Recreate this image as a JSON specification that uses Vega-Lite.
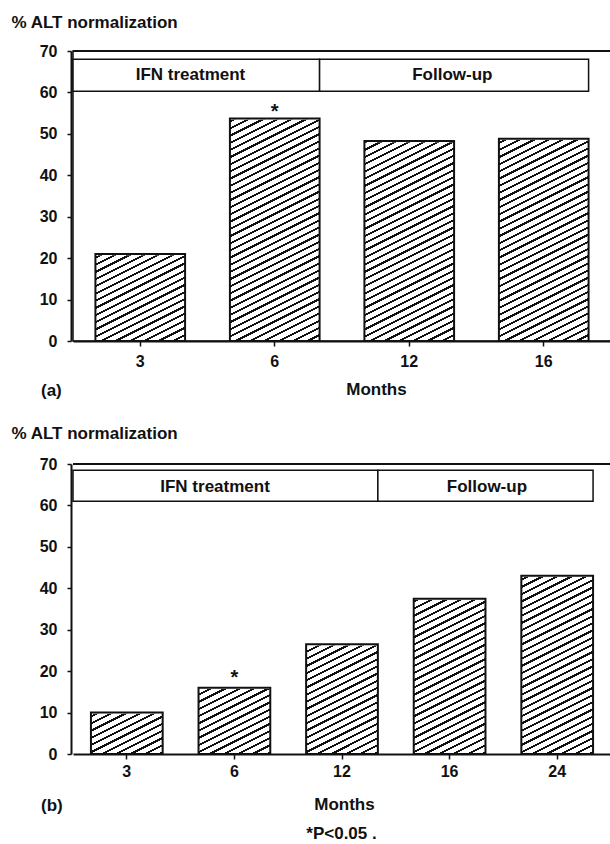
{
  "$schema": "https://vega.github.io/schema/vega-lite/v6.json",
  "background": "white",
  "padding": {"left": 10, "top": 12, "right": 0, "bottom": 2},
  "bounds": "flush",
  "spacing": 123,
  "params": [
    {"name": "hatch", "value": {"gradient": "linear", "x1": 0, "y1": 0, "x2": 0.2267, "y2": 1.1522, "stops": [
      {"offset":0,"color":"#111"},{"offset":0.0079,"color":"#111"},{"offset":0.0079,"color":"#fff"},{"offset":0.0263,"color":"#fff"},
      {"offset":0.0263,"color":"#111"},{"offset":0.0342,"color":"#111"},{"offset":0.0342,"color":"#fff"},{"offset":0.0526,"color":"#fff"},
      {"offset":0.0526,"color":"#111"},{"offset":0.0605,"color":"#111"},{"offset":0.0605,"color":"#fff"},{"offset":0.0789,"color":"#fff"},
      {"offset":0.0789,"color":"#111"},{"offset":0.0868,"color":"#111"},{"offset":0.0868,"color":"#fff"},{"offset":0.1053,"color":"#fff"},
      {"offset":0.1053,"color":"#111"},{"offset":0.1132,"color":"#111"},{"offset":0.1132,"color":"#fff"},{"offset":0.1316,"color":"#fff"},
      {"offset":0.1316,"color":"#111"},{"offset":0.1395,"color":"#111"},{"offset":0.1395,"color":"#fff"},{"offset":0.1579,"color":"#fff"},
      {"offset":0.1579,"color":"#111"},{"offset":0.1658,"color":"#111"},{"offset":0.1658,"color":"#fff"},{"offset":0.1842,"color":"#fff"},
      {"offset":0.1842,"color":"#111"},{"offset":0.1921,"color":"#111"},{"offset":0.1921,"color":"#fff"},{"offset":0.2105,"color":"#fff"},
      {"offset":0.2105,"color":"#111"},{"offset":0.2184,"color":"#111"},{"offset":0.2184,"color":"#fff"},{"offset":0.2368,"color":"#fff"},
      {"offset":0.2368,"color":"#111"},{"offset":0.2447,"color":"#111"},{"offset":0.2447,"color":"#fff"},{"offset":0.2632,"color":"#fff"},
      {"offset":0.2632,"color":"#111"},{"offset":0.2711,"color":"#111"},{"offset":0.2711,"color":"#fff"},{"offset":0.2895,"color":"#fff"},
      {"offset":0.2895,"color":"#111"},{"offset":0.2974,"color":"#111"},{"offset":0.2974,"color":"#fff"},{"offset":0.3158,"color":"#fff"},
      {"offset":0.3158,"color":"#111"},{"offset":0.3237,"color":"#111"},{"offset":0.3237,"color":"#fff"},{"offset":0.3421,"color":"#fff"},
      {"offset":0.3421,"color":"#111"},{"offset":0.35,"color":"#111"},{"offset":0.35,"color":"#fff"},{"offset":0.3684,"color":"#fff"},
      {"offset":0.3684,"color":"#111"},{"offset":0.3763,"color":"#111"},{"offset":0.3763,"color":"#fff"},{"offset":0.3947,"color":"#fff"},
      {"offset":0.3947,"color":"#111"},{"offset":0.4026,"color":"#111"},{"offset":0.4026,"color":"#fff"},{"offset":0.4211,"color":"#fff"},
      {"offset":0.4211,"color":"#111"},{"offset":0.429,"color":"#111"},{"offset":0.429,"color":"#fff"},{"offset":0.4474,"color":"#fff"},
      {"offset":0.4474,"color":"#111"},{"offset":0.4553,"color":"#111"},{"offset":0.4553,"color":"#fff"},{"offset":0.4737,"color":"#fff"},
      {"offset":0.4737,"color":"#111"},{"offset":0.4816,"color":"#111"},{"offset":0.4816,"color":"#fff"},{"offset":0.5,"color":"#fff"},
      {"offset":0.5,"color":"#111"},{"offset":0.5079,"color":"#111"},{"offset":0.5079,"color":"#fff"},{"offset":0.5263,"color":"#fff"},
      {"offset":0.5263,"color":"#111"},{"offset":0.5342,"color":"#111"},{"offset":0.5342,"color":"#fff"},{"offset":0.5526,"color":"#fff"},
      {"offset":0.5526,"color":"#111"},{"offset":0.5605,"color":"#111"},{"offset":0.5605,"color":"#fff"},{"offset":0.5789,"color":"#fff"},
      {"offset":0.5789,"color":"#111"},{"offset":0.5868,"color":"#111"},{"offset":0.5868,"color":"#fff"},{"offset":0.6053,"color":"#fff"},
      {"offset":0.6053,"color":"#111"},{"offset":0.6132,"color":"#111"},{"offset":0.6132,"color":"#fff"},{"offset":0.6316,"color":"#fff"},
      {"offset":0.6316,"color":"#111"},{"offset":0.6395,"color":"#111"},{"offset":0.6395,"color":"#fff"},{"offset":0.6579,"color":"#fff"},
      {"offset":0.6579,"color":"#111"},{"offset":0.6658,"color":"#111"},{"offset":0.6658,"color":"#fff"},{"offset":0.6842,"color":"#fff"},
      {"offset":0.6842,"color":"#111"},{"offset":0.6921,"color":"#111"},{"offset":0.6921,"color":"#fff"},{"offset":0.7105,"color":"#fff"},
      {"offset":0.7105,"color":"#111"},{"offset":0.7184,"color":"#111"},{"offset":0.7184,"color":"#fff"},{"offset":0.7368,"color":"#fff"},
      {"offset":0.7368,"color":"#111"},{"offset":0.7447,"color":"#111"},{"offset":0.7447,"color":"#fff"},{"offset":0.7632,"color":"#fff"},
      {"offset":0.7632,"color":"#111"},{"offset":0.7711,"color":"#111"},{"offset":0.7711,"color":"#fff"},{"offset":0.7895,"color":"#fff"},
      {"offset":0.7895,"color":"#111"},{"offset":0.7974,"color":"#111"},{"offset":0.7974,"color":"#fff"},{"offset":0.8158,"color":"#fff"},
      {"offset":0.8158,"color":"#111"},{"offset":0.8237,"color":"#111"},{"offset":0.8237,"color":"#fff"},{"offset":0.8421,"color":"#fff"},
      {"offset":0.8421,"color":"#111"},{"offset":0.85,"color":"#111"},{"offset":0.85,"color":"#fff"},{"offset":0.8684,"color":"#fff"},
      {"offset":0.8684,"color":"#111"},{"offset":0.8763,"color":"#111"},{"offset":0.8763,"color":"#fff"},{"offset":0.8947,"color":"#fff"},
      {"offset":0.8947,"color":"#111"},{"offset":0.9026,"color":"#111"},{"offset":0.9026,"color":"#fff"},{"offset":0.9211,"color":"#fff"},
      {"offset":0.9211,"color":"#111"},{"offset":0.929,"color":"#111"},{"offset":0.929,"color":"#fff"},{"offset":0.9474,"color":"#fff"},
      {"offset":0.9474,"color":"#111"},{"offset":0.9553,"color":"#111"},{"offset":0.9553,"color":"#fff"},{"offset":0.9737,"color":"#fff"},
      {"offset":0.9737,"color":"#111"},{"offset":0.9816,"color":"#111"},{"offset":0.9816,"color":"#fff"},{"offset":1,"color":"#fff"}
    ]}}
  ],
  "config": {
    "view": {"stroke": "transparent", "strokeWidth": 0},
    "font": "Liberation Sans",
    "axis": {"labelFont": "Liberation Sans", "labelFontSize": 16, "labelFontWeight": "bold", "labelColor": "#111", "titleFont": "Liberation Sans", "titleFontSize": 17, "titleFontWeight": "bold", "titleColor": "#111", "domainColor": "#111", "domainWidth": 2, "tickColor": "#111", "tickWidth": 1.5, "grid": false},
    "axisY": {"offset": 2, "tickSize": 4, "labelPadding": 10, "titleAngle": 0, "titleAlign": "left", "titleBaseline": "alphabetic", "titleX": -60},
    "axisX": {"labelAngle": 0, "tickSize": 5, "titleAlign": "center", "titleBaseline": "alphabetic"},
    "title": {"font": "Liberation Sans", "fontSize": 17, "fontWeight": "bold", "color": "#111"},
    "text": {"font": "Liberation Sans", "fill": "#111"}
  },
  "title": {"text": "*P<0.05 .", "orient": "bottom", "anchor": "middle", "dx": 30, "offset": 12},
  "vconcat": [
    {
      "width": 538, "height": 290,
      "view": {"stroke": "#111", "strokeWidth": 1.5},
      "title": {"text": "(a)", "orient": "bottom", "anchor": "start", "frame": "group", "offset": -14, "dx": -32},
      "data": {"values": [
        {"month": "3", "value": 21, "sig": ""},
        {"month": "6", "value": 53.7, "sig": "*"},
        {"month": "12", "value": 48.3, "sig": ""},
        {"month": "16", "value": 48.8, "sig": ""}
      ]},
      "layer": [
        {"mark": {"type": "bar", "fill": {"expr": "hatch"}, "strokeWidth": 0},
         "encoding": {
           "x": {"field": "month", "type": "ordinal", "scale": {"domain": ["3","6","12","16"], "paddingInner": 0.3333, "paddingOuter": 0.1667},
                 "axis": {"title": "Months", "titleX": 303, "titleY": 53, "labelPadding": 7}},
           "y": {"datum": 0, "type": "quantitative", "scale": {"domain": [0, 70], "nice": false},
                 "axis": {"title": "% ALT normalization", "titleY": -24, "values": [0,10,20,30,40,50,60,70]}},
           "y2": {"datum": 55}
         }},
        {"mark": {"type": "bar", "fill": "white", "stroke": "white", "strokeWidth": 2.5},
         "encoding": {"x": {"field": "month", "type": "ordinal"}, "y": {"field": "value", "type": "quantitative"}, "y2": {"datum": 55}}},
        {"mark": {"type": "bar", "fill": "transparent", "stroke": "#111", "strokeWidth": 2},
         "encoding": {"x": {"field": "month", "type": "ordinal"}, "y": {"field": "value", "type": "quantitative"}}},
        {"mark": {"type": "text", "dy": -7, "fontSize": 20, "fontWeight": "bold", "baseline": "middle"},
         "encoding": {"x": {"field": "month", "type": "ordinal"}, "y": {"field": "value", "type": "quantitative"}, "text": {"field": "sig"}}},
        {"mark": {"type": "rule", "stroke": "#111", "strokeWidth": 2}, "encoding": {"y": {"datum": 70}}},
        {"data": {"values": [{"phase": "IFN treatment", "from": "3", "to": "6"}]},
         "layer": [
           {"mark": {"type": "rect", "fill": "white", "stroke": "#111", "strokeWidth": 1.5},
            "encoding": {"x": {"field": "from", "type": "ordinal", "bandPosition": -0.25}, "x2": {"field": "to", "bandPosition": 1}, "y": {"datum": 60.3}, "y2": {"datum": 68}}},
           {"mark": {"type": "text", "fontSize": 17, "fontWeight": "bold", "baseline": "middle", "align": "center"},
            "encoding": {"x": {"field": "from", "type": "ordinal", "bandPosition": 1.06}, "y": {"datum": 64.2}, "text": {"field": "phase"}}}
         ]},
        {"data": {"values": [{"phase": "Follow-up", "from": "6", "to": "16"}]},
         "layer": [
           {"mark": {"type": "rect", "fill": "white", "stroke": "#111", "strokeWidth": 1.5},
            "encoding": {"x": {"field": "from", "type": "ordinal", "bandPosition": 1}, "x2": {"field": "to", "bandPosition": 1}, "y": {"datum": 60.3}, "y2": {"datum": 68}}},
           {"mark": {"type": "text", "fontSize": 17, "fontWeight": "bold", "baseline": "middle", "align": "center"},
            "encoding": {"x": {"field": "from", "type": "ordinal", "bandPosition": 2.48}, "y": {"datum": 64.2}, "text": {"field": "phase"}}}
         ]}
      ]
    },
    {
      "width": 538, "height": 290,
      "view": {"stroke": "transparent", "strokeWidth": 0},
      "title": {"text": "(b)", "orient": "bottom", "anchor": "start", "frame": "group", "offset": -14, "dx": -32},
      "data": {"values": [
        {"month": "3", "value": 10, "sig": ""},
        {"month": "6", "value": 16, "sig": "*"},
        {"month": "12", "value": 26.5, "sig": ""},
        {"month": "16", "value": 37.5, "sig": ""},
        {"month": "24", "value": 43, "sig": ""}
      ]},
      "layer": [
        {"mark": {"type": "bar", "fill": {"expr": "merge(hatch, {x2: 0.2835, y2: 1.4407})"}, "strokeWidth": 0},
         "encoding": {
           "x": {"field": "month", "type": "ordinal", "scale": {"domain": ["3","6","12","16","24"], "paddingInner": 0.3333, "paddingOuter": 0.1667},
                 "axis": {"title": "Months", "titleX": 271, "titleY": 55, "labelPadding": 4}},
           "y": {"datum": 0, "type": "quantitative", "scale": {"domain": [0, 70], "nice": false},
                 "axis": {"title": "% ALT normalization", "titleY": -26, "values": [0,10,20,30,40,50,60,70]}},
           "y2": {"datum": 44}
         }},
        {"mark": {"type": "bar", "fill": "white", "stroke": "white", "strokeWidth": 2.5},
         "encoding": {"x": {"field": "month", "type": "ordinal"}, "y": {"field": "value", "type": "quantitative"}, "y2": {"datum": 44}}},
        {"mark": {"type": "bar", "fill": "transparent", "stroke": "#111", "strokeWidth": 2},
         "encoding": {"x": {"field": "month", "type": "ordinal"}, "y": {"field": "value", "type": "quantitative"}}},
        {"mark": {"type": "text", "dy": -10, "fontSize": 20, "fontWeight": "bold", "baseline": "middle"},
         "encoding": {"x": {"field": "month", "type": "ordinal"}, "y": {"field": "value", "type": "quantitative"}, "text": {"field": "sig"}}},
        {"mark": {"type": "rule", "stroke": "#111", "strokeWidth": 2}, "encoding": {"y": {"datum": 70}}},
        {"data": {"values": [{"phase": "IFN treatment", "from": "3", "to": "12"}]},
         "layer": [
           {"mark": {"type": "rect", "fill": "white", "stroke": "#111", "strokeWidth": 1.5},
            "encoding": {"x": {"field": "from", "type": "ordinal", "bandPosition": -0.25}, "x2": {"field": "to", "bandPosition": 1}, "y": {"datum": 61}, "y2": {"datum": 68.5}}},
           {"mark": {"type": "text", "fontSize": 17, "fontWeight": "bold", "baseline": "middle", "align": "center"},
            "encoding": {"x": {"field": "from", "type": "ordinal", "bandPosition": 1.73}, "y": {"datum": 64.5}, "text": {"field": "phase"}}}
         ]},
        {"data": {"values": [{"phase": "Follow-up", "from": "12", "to": "24"}]},
         "layer": [
           {"mark": {"type": "rect", "fill": "white", "stroke": "#111", "strokeWidth": 1.5},
            "encoding": {"x": {"field": "from", "type": "ordinal", "bandPosition": 1}, "x2": {"field": "to", "bandPosition": 1}, "y": {"datum": 61}, "y2": {"datum": 68.5}}},
           {"mark": {"type": "text", "fontSize": 17, "fontWeight": "bold", "baseline": "middle", "align": "center"},
            "encoding": {"x": {"field": "from", "type": "ordinal", "bandPosition": 2.52}, "y": {"datum": 64.5}, "text": {"field": "phase"}}}
         ]}
      ]
    }
  ]
}
